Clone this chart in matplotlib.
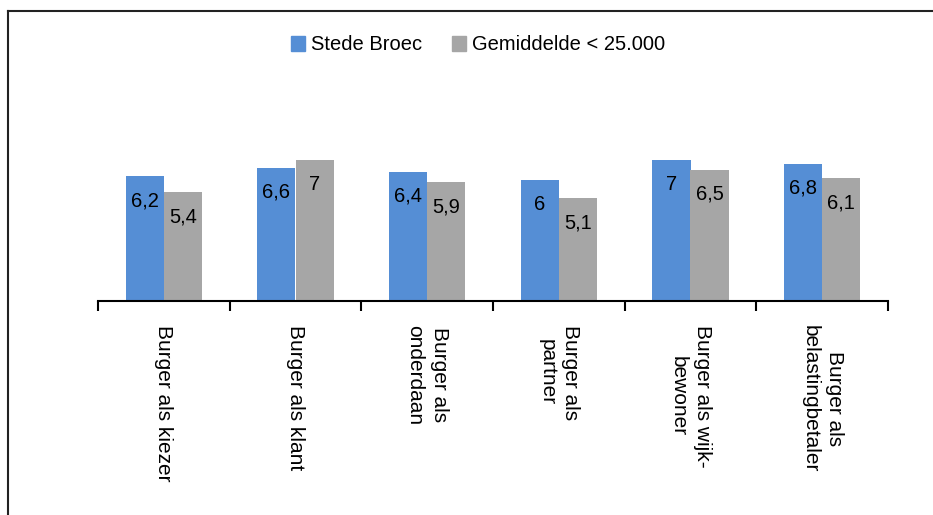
import matplotlib.pyplot as plt
import numpy as np
from matplotlib.lines import Line2D

plt.rcParams['font.family'] = ['Liberation Sans', 'DejaVu Sans']

categories = ["Burger als kiezer", "Burger als klant", "Burger als\nonderdaan",
              "Burger als\npartner", "Burger als wijk-\nbewoner", "Burger als\nbelastingbetaler"]
stede_broec = [6.2, 6.6, 6.4, 6.0, 7.0, 6.8]
gemiddelde = [5.4, 7.0, 5.9, 5.1, 6.5, 6.1]
series_names = ["Stede Broec", "Gemiddelde < 25.000"]

blue = "#558ED5"
grey = "#A6A6A6"

def fmt(v):
    # dutch decimal comma, drop trailing ,0
    s = ("%g" % v)
    return s.replace(".", ",")

fig = plt.figure(figsize=(9.33, 5.15), dpi=100)
ax = fig.add_axes([98/933, 1-301/515, 790/933, 202/515])

x = np.arange(len(categories))
w = 0.29
b1 = ax.bar(x - w/2, stede_broec, w, color=blue, label=series_names[0])
b2 = ax.bar(x + w/2, gemiddelde, w, color=grey, label=series_names[1])

for bars, vals in ((b1, stede_broec), (b2, gemiddelde)):
    for b, v in zip(bars, vals):
        ax.annotate(fmt(v), (b.get_x() + b.get_width()/2, v), xytext=(0, -11),
                    textcoords="offset points", ha="center", va="top", fontsize=14.5)

ax.set_xlim(-0.5, len(categories) - 0.5)
ax.set_ylim(0, 10)
ax.set_yticks([])
for s in ("left", "right", "top"):
    ax.spines[s].set_visible(False)
ax.spines["bottom"].set_linewidth(1.5)

ax.set_xticks(x)
ax.set_xticklabels(categories, rotation=270, fontsize=15, va="top", ha="center",
                   multialignment="center", linespacing=1.35)
ax.tick_params(axis="x", which="major", length=0, pad=17)
ax.set_xticks(np.arange(-0.5, len(categories)), minor=True)
ax.tick_params(axis="x", which="minor", length=7, width=1.5, direction="out")

handles = [plt.Rectangle((0, 0), 1, 1, color=blue), plt.Rectangle((0, 0), 1, 1, color=grey)]
fig.legend(handles, series_names, loc="center", bbox_to_anchor=(478/933, 1-45/515),
           ncol=2, frameon=False, fontsize=14.5, handlelength=0.7, handleheight=0.7,
           handletextpad=0.3, columnspacing=1.5)

# outer chart border (left and top visible)
fig.add_artist(Line2D([8/933, 8/933], [0, 1-11/515], transform=fig.transFigure,
                      color="#222222", lw=1.5))
fig.add_artist(Line2D([8/933, 1], [1-11/515, 1-11/515], transform=fig.transFigure,
                      color="#222222", lw=1.5))

fig.savefig("out.png", dpi=100)
